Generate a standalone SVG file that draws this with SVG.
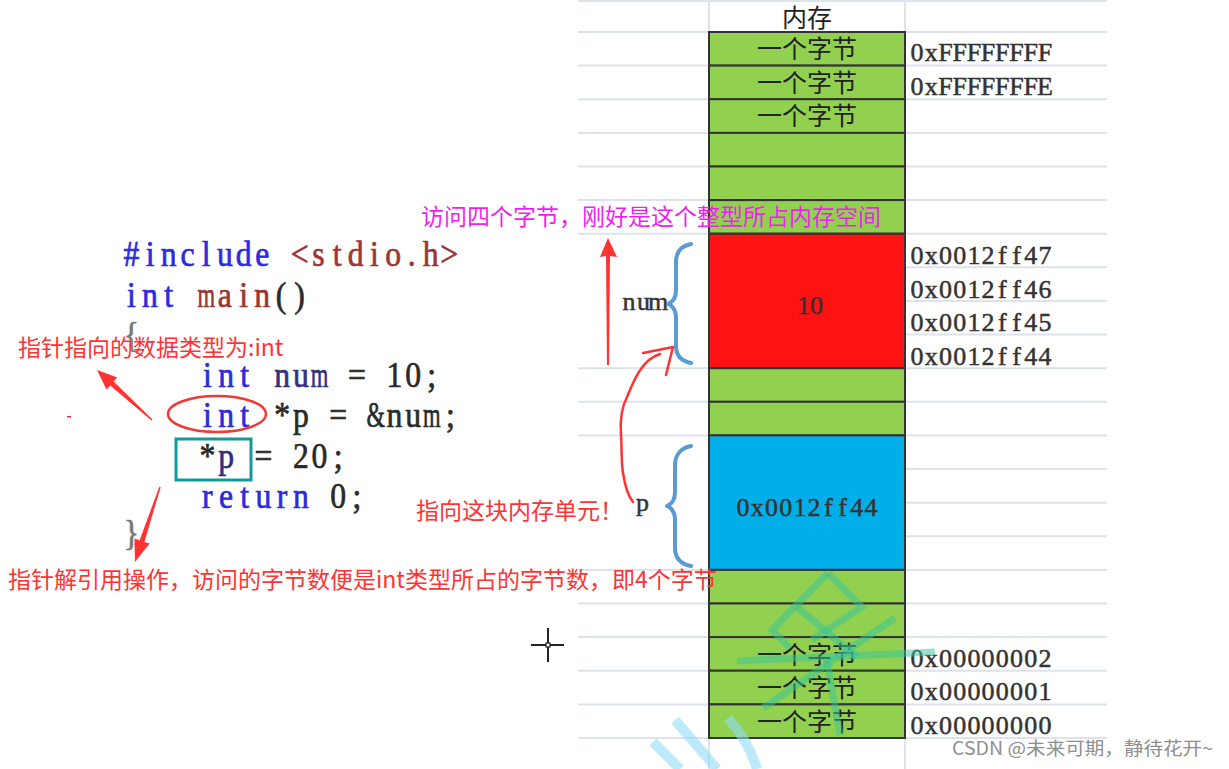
<svg xmlns="http://www.w3.org/2000/svg" width="1229" height="769" viewBox="0 0 1229 769">
<style>
.grid{stroke:#dde2ec;stroke-width:2;fill:none}
.g{fill:#92d050;stroke:#333;stroke-width:2}
.r{fill:#ff1212;stroke:#333;stroke-width:2}
.b{fill:#00aeea;stroke:#333;stroke-width:2}
.cjk{font-family:"Noto Sans CJK SC","Noto Sans",sans-serif}
.cell{font-family:"Noto Sans CJK SC",sans-serif;font-size:25px;fill:#222;text-anchor:middle}
.addr{font-family:"Liberation Serif",serif;font-size:26px;fill:#333;stroke:#333;stroke-width:0.5;text-anchor:middle}
.code{font-family:"Liberation Serif",serif;font-size:36px;stroke-width:0.7;text-anchor:middle}
.kw{fill:#2a2ae0;stroke:#2a2ae0}
.mr{fill:#9a3636;stroke:#9a3636}
.nv{fill:#30307e;stroke:#30307e}
.dk{fill:#2a2a2a;stroke:#2a2a2a}
.gy{fill:#777;stroke:#777}
.red{fill:#ff3333;font-size:23px}
.brace{fill:none;stroke:#5b9bd5;stroke-width:4;stroke-linecap:round;stroke-linejoin:round}
.wm1{stroke:#33c39a;stroke-opacity:0.5;stroke-width:7;fill:none;stroke-linecap:butt}
.wm2{stroke:#8fdcf8;stroke-opacity:0.6;stroke-width:10;fill:none}
</style>
<rect width="1229" height="769" fill="#fff"/>

<g id="grid">
<path class="grid" d="M578,1H1107 M709,0V32 M905,0V32 M709,738V769 M905,738V769"/>
<path class="grid" d="M578,32H709 M578,65.6H709 M578,99.2H709 M578,132.9H709 M578,166.5H709 M578,200.1H709 M578,233.7H709 M578,368.2H709 M578,401.8H709 M578,435.4H709 M578,569.9H709 M578,603.5H709 M578,637.1H709 M578,670.7H709 M578,704.4H709 M578,738H709"/>
<path class="grid" d="M905,32H1107 M905,65.6H1107 M905,99.2H1107 M905,132.9H1107 M905,166.5H1107 M905,200.1H1107 M905,233.7H1107 M905,267.3H1107 M905,300.9H1107 M905,334.6H1107 M905,368.2H1107 M905,401.8H1107 M905,435.4H1107 M905,469H1107 M905,502.7H1107 M905,536.3H1107 M905,569.9H1107 M905,603.5H1107 M905,637.1H1107 M905,670.7H1107 M905,704.4H1107 M905,738H1107"/>
</g>

<g id="header"><text class="cell" x="807" y="27" font-size="22" fill="#333">内存</text></g>

<g id="memory">
<rect class="g" x="709" y="32" width="196" height="33.6"/>
<rect class="g" x="709" y="65.6" width="196" height="33.6"/>
<rect class="g" x="709" y="99.2" width="196" height="33.7"/>
<rect class="g" x="709" y="132.9" width="196" height="33.6"/>
<rect class="g" x="709" y="166.5" width="196" height="33.6"/>
<rect class="g" x="709" y="200.1" width="196" height="33.6"/>
<rect class="r" x="709" y="233.7" width="196" height="134.5"/>
<rect class="g" x="709" y="368.2" width="196" height="33.6"/>
<rect class="g" x="709" y="401.8" width="196" height="33.6"/>
<rect class="b" x="709" y="435.4" width="196" height="134.5"/>
<rect class="g" x="709" y="569.9" width="196" height="33.6"/>
<rect class="g" x="709" y="603.5" width="196" height="33.6"/>
<rect class="g" x="709" y="637.1" width="196" height="33.6"/>
<rect class="g" x="709" y="670.7" width="196" height="33.7"/>
<rect class="g" x="709" y="704.4" width="196" height="33.6"/>
<text class="cell" x="807" y="58">一个字节</text>
<text class="cell" x="807" y="91.5">一个字节</text>
<text class="cell" x="807" y="125">一个字节</text>
<text class="cell" x="807" y="663.5">一个字节</text>
<text class="cell" x="807" y="697">一个字节</text>
<text class="cell" x="807" y="730.5">一个字节</text>
<text class="addr" x="803.5 816.5" y="314" font-size="28" fill="#111" stroke="#111">10</text>
<text class="addr" x="743.1 757.3 771.5 785.7 799.9 814.1 828.3 842.5 856.7 870.9" y="516" font-size="28" fill="#111" stroke="#111">0x0012ff44</text>
</g>

<g id="addresses">
<text class="addr" x="917.1 931.3 945.5 959.7 973.9 988.1 1002.3 1016.5 1030.7 1044.9" y="61">0xFFFFFFFF</text>
<text class="addr" x="917.1 931.3 945.5 959.7 973.9 988.1 1002.3 1016.5 1030.7 1044.9" y="95">0xFFFFFFFE</text>
<text class="addr" x="917.1 931.3 945.5 959.7 973.9 988.1 1002.3 1016.5 1030.7 1044.9" y="264">0x0012ff47</text>
<text class="addr" x="917.1 931.3 945.5 959.7 973.9 988.1 1002.3 1016.5 1030.7 1044.9" y="298">0x0012ff46</text>
<text class="addr" x="917.1 931.3 945.5 959.7 973.9 988.1 1002.3 1016.5 1030.7 1044.9" y="331">0x0012ff45</text>
<text class="addr" x="917.1 931.3 945.5 959.7 973.9 988.1 1002.3 1016.5 1030.7 1044.9" y="365">0x0012ff44</text>
<text class="addr" x="917.1 931.3 945.5 959.7 973.9 988.1 1002.3 1016.5 1030.7 1044.9" y="667">0x00000002</text>
<text class="addr" x="917.1 931.3 945.5 959.7 973.9 988.1 1002.3 1016.5 1030.7 1044.9" y="700">0x00000001</text>
<text class="addr" x="917.1 931.3 945.5 959.7 973.9 988.1 1002.3 1016.5 1030.7 1044.9" y="734">0x00000000</text>
</g>

<g id="num-label">
<text class="addr" x="629 643.5 658" y="310" font-size="23">num</text>
<path class="brace" d="M691,244 C681,246 676,252 676,262 L676,290 C676,298 673,302 668,304 C673,306 676,310 676,318 L676,346 C676,356 681,361 691,363"/>
</g>
<g id="p-label">
<text class="addr" x="642.5" y="511" font-size="23">p</text>
<path class="brace" d="M691,446 C681,448 675,455 675,465 L675,492 C675,500 672,504 667,506 C672,508 675,512 675,520 L675,548 C675,558 681,564 691,566"/>
</g>

<g id="code" class="code" transform="scale(0.88,1)">
<text class="kw" x="149.3 170.5 191.8 213.0 234.3 255.5 276.8 298.0" y="266">#include</text>
<text class="mr" x="340.5 361.8 383.0 404.3 425.5 446.8 468.0 489.3 510.5" y="266">&lt;stdio.h&gt;</text>
<text class="kw" x="149.3 170.5 191.8" y="307">int</text>
<text class="mr" x="234.3" y="307" textLength="20" lengthAdjust="spacingAndGlyphs">m</text>
<text class="mr" x="255.5 276.8 298.0" y="307">ain</text>
<text class="dk" x="319.3 340.5" y="307">()</text>
<text class="gy" x="149.3" y="347">{</text>
<text class="kw" x="235.6 256.9 278.1" y="387">int</text>
<text class="nv" x="320.6 341.9" y="387">nu</text>
<text class="nv" x="363.1" y="387" textLength="20" lengthAdjust="spacingAndGlyphs">m</text>
<text class="dk" x="405.6" y="387">=</text>
<text class="dk" x="448.1 469.4 490.6" y="387">10;</text>
<text class="kw" x="235.6 256.9 278.1" y="427">int</text>
<text class="dk" x="320.6 341.9" y="427">*p</text>
<text class="dk" x="384.4" y="427">=</text>
<text class="dk" x="426.9" y="427" textLength="21" lengthAdjust="spacingAndGlyphs">&amp;</text>
<text class="dk" x="448.1 469.4" y="427">nu</text>
<text class="dk" x="490.6" y="427" textLength="20" lengthAdjust="spacingAndGlyphs">m</text>
<text class="dk" x="511.9" y="427">;</text>
<text class="dk" x="235.6" y="468">*</text>
<text class="nv" x="256.9" y="468">p</text>
<text class="dk" x="299.4" y="468">=</text>
<text class="dk" x="341.9 363.1 384.4" y="468">20;</text>
<text class="kw" x="235.6 256.9 278.1 299.4 320.6 341.9" y="508">return</text>
<text class="dk" x="384.4 405.6" y="508">0;</text>
<text class="gy" x="149.3" y="545">}</text>
</g>

<g id="highlights">
<ellipse cx="217" cy="414" rx="49" ry="18" fill="none" stroke="#f03a3a" stroke-width="2.5"/>
<rect x="176" y="439" width="75" height="41" fill="none" stroke="#139a98" stroke-width="3"/>
</g>

<g id="connectors" fill="#ff3333">
<polygon points="607,365 609,365 610,256 617,257 608,238 600,257 606,256"/>
<polygon points="152.5,419.4 113.6,381.6 117.3,377.6 97,370 106.5,389.4 110.2,385.4 151.5,420.6"/>
<polygon points="160.7,487.2 144.4,541.9 149.6,543.6 135,562 134.4,538.6 139.6,540.3 159.3,486.8"/>
<path d="M633,502 C628,496 625,486 623,473 C621,460 622,448 621,435 C620,420 621,408 627,397 C632,385 635,377 641,369 C647,360 654,356 660,354 M643,353 L673,347 L666,375" fill="none" stroke="#ff3333" stroke-width="2.5" stroke-linecap="round" stroke-linejoin="round"/>
<rect x="67" y="416" width="4" height="1.5"/>
</g>

<g id="annotations" class="cjk">
<text class="red" x="18" y="356">指针指向的数据类型为:int</text>
<text class="red" x="8" y="588">指针解引用操作，访问的字节数便是int类型所占的字节数，即4个字节</text>
<text class="red" x="416" y="519">指向这块内存单元！</text>
<text x="421" y="225" font-size="23" fill="#f01ef0">访问四个字节，刚好是这个整型所占内存空间</text>
</g>

<g id="cursor" stroke="#222" stroke-width="2" fill="none">
<path d="M531,645H564 M548,628V662"/>
<rect x="546" y="643" width="4" height="4" fill="#fff" stroke-width="1.2"/>
</g>

<g id="watermark">
<path class="wm1" d="M737,661 L935,652"/>
<path class="wm1" d="M828,573 L772,630 L790,648"/>
<path class="wm1" d="M797,607 L857,657"/>
<path class="wm1" d="M828,573 L862,607 L812,640"/>
<path class="wm1" d="M895,618 L763,708"/>
<path class="wm1" d="M827,660 L840,735"/>
<path class="wm2" d="M653,742 L680,769"/>
<path class="wm2" d="M675,720 L717,769"/>
<path class="wm2" d="M728,718 C742,734 752,752 757,769" stroke-width="8"/>
</g>

<g id="credit">
<text x="952" y="755" font-family="Noto Sans CJK SC,Noto Sans,sans-serif" font-size="18" fill="#8e8e8e" textLength="261" lengthAdjust="spacingAndGlyphs">CSDN @未来可期，静待花开~</text>
</g>
</svg>
